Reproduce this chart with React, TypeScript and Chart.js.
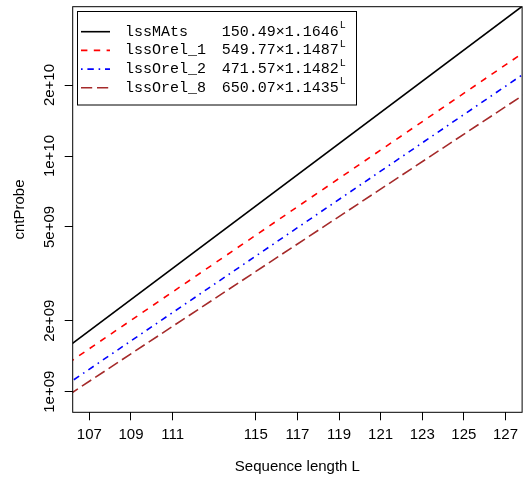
import React, { useEffect, useRef } from 'react';
import { Chart, registerables } from 'chart.js';

Chart.register(...registerables);

// ---- data ----
const seriesNames = ['lssMAts', 'lssOrel_1', 'lssOrel_2', 'lssOrel_8'];
const fitBases = ['150.49', '549.77', '471.57', '650.07'];
const fitRates = ['1.1646', '1.1487', '1.1482', '1.1435'];
const seqLength = [106, 128];
const lssMAts = [1.557e9, 4.448e10];
const lssOrel1 = [1.3247e9, 2.797e10];
const lssOrel2 = [1.0851e9, 2.269e10];
const lssOrel8 = [9.682e8, 1.8499e10];
const xTicks = [107, 109, 111, 115, 117, 119, 121, 123, 125, 127];
const yTicks = [1e9, 2e9, 5e9, 1e10, 2e10];
const yTickLabels = ['1e+09', '2e+09', '5e+09', '1e+10', '2e+10'];

// ---- styles ----
const colors = ['#000000', '#FF0000', '#0000FF', '#A52A2A'];
const dashes: number[][] = [[], [6.4, 6.4], [1.6, 4.8, 6.4, 4.8], [11.2, 4.8]];
const LW = 1.6;
const SANS = '"Liberation Sans", Arial, Helvetica, sans-serif';
const MONO = '"Liberation Mono", "Courier New", monospace';

const allSeries = [lssMAts, lssOrel1, lssOrel2, lssOrel8];

const boxAndLegend = {
  id: 'boxAndLegend',
  afterDraw(chart: any) {
    const { ctx, chartArea } = chart;
    ctx.save();
    // plot box
    ctx.strokeStyle = '#000';
    ctx.lineWidth = 1;
    ctx.setLineDash([]);
    ctx.strokeRect(chartArea.left, chartArea.top, chartArea.right - chartArea.left, chartArea.bottom - chartArea.top);
    // y tick labels (rotated, centred on their ticks)
    const yScale = chart.scales.y;
    ctx.fillStyle = '#000';
    ctx.font = `15px ${SANS}`;
    ctx.textAlign = 'center';
    ctx.textBaseline = 'middle';
    yTicks.forEach((v, i) => {
      const py = yScale.getPixelForValue(v);
      ctx.save();
      ctx.translate(49.5, py);
      ctx.rotate(-Math.PI / 2);
      ctx.fillText(yTickLabels[i], 0, 0);
      ctx.restore();
    });
    // legend
    const lx = 77.5, ly = 11.5, lw = 279, lh = 93.5;
    ctx.fillStyle = '#fff';
    ctx.fillRect(lx, ly, lw, lh);
    ctx.strokeStyle = '#000';
    ctx.strokeRect(lx, ly, lw, lh);
    for (let i = 0; i < seriesNames.length; i++) {
      const y = 31.7 + i * 18.7;
      ctx.beginPath();
      ctx.strokeStyle = colors[i];
      ctx.lineWidth = LW;
      ctx.setLineDash(dashes[i]);
      ctx.moveTo(81, y);
      ctx.lineTo(110, y);
      ctx.stroke();
      ctx.setLineDash([]);
      ctx.fillStyle = '#000';
      ctx.font = `15px ${MONO}`;
      ctx.textBaseline = 'middle';
      ctx.textAlign = 'left';
      ctx.fillText(seriesNames[i], 125, y);
      const formula = `${fitBases[i]}\u00D7${fitRates[i]}`;
      ctx.fillText(formula, 221.7, y);
      const w = ctx.measureText(formula).width;
      ctx.font = `10px ${MONO}`;
      ctx.fillText('L', 221.7 + w + 1, y - 6);
    }
    ctx.restore();
  },
};

export default function App() {
  const ref = useRef<HTMLCanvasElement | null>(null);
  useEffect(() => {
    document.body.style.margin = '0';
    const canvas = ref.current;
    if (!canvas) return;
    const datasets = allSeries.map((vals, i) => ({
      label: seriesNames[i],
      data: seqLength.map((x, j) => ({ x, y: vals[j] })),
      borderColor: colors[i],
      backgroundColor: colors[i],
      borderWidth: LW,
      borderDash: dashes[i],
      pointRadius: 0,
      tension: 0,
      fill: false,
    }));
    const chart = new Chart(canvas, {
      type: 'line',
      data: { datasets },
      options: {
        animation: false,
        responsive: false,
        devicePixelRatio: 1,
        layout: { padding: { top: 6.7, right: 0.5, left: 0, bottom: 0 } },
        plugins: { legend: { display: false }, tooltip: { enabled: false } },
        scales: {
          x: {
            type: 'linear',
            min: 106.2,
            max: 127.8,
            afterBuildTicks: (s: any) => {
              s.ticks = xTicks.map((v) => ({ value: v }));
            },
            afterFit: (s: any) => {
              s.height = 64.7;
            },
            border: { display: false },
            grid: { drawOnChartArea: false, drawTicks: true, tickLength: 8, color: '#000', tickColor: '#000' },
            ticks: {
              autoSkip: false,
              maxRotation: 0,
              minRotation: 0,
              padding: 6,
              color: '#000',
              font: { family: SANS, size: 15 },
              callback: (v: any) => String(v),
            },
            title: {
              display: true,
              text: 'Sequence length L',
              color: '#000',
              font: { family: SANS, size: 15 },
              padding: { top: 0, bottom: 1 },
            },
          },
          y: {
            type: 'logarithmic',
            min: 8.177e8,
            max: 4.3e10,
            afterBuildTicks: (s: any) => {
              s.ticks = yTicks.map((v) => ({ value: v }));
            },
            afterFit: (s: any) => {
              s.width = 72.7;
            },
            border: { display: false },
            grid: { drawOnChartArea: false, drawTicks: true, tickLength: 8, color: '#000', tickColor: '#000' },
            ticks: {
              display: false,
              autoSkip: false,
            },
            title: {
              display: true,
              text: 'cntProbe',
              color: '#000',
              font: { family: SANS, size: 15 },
              padding: { top: 10.5, bottom: 0 },
            },
          },
        },
      },
      plugins: [boxAndLegend],
    } as any);
    return () => chart.destroy();
  }, []);
  return (
    <div style={{ position: 'absolute', left: 0, top: 0, width: 524, height: 477 }}>
      <canvas ref={ref} width={524} height={477} />
    </div>
  );
}
